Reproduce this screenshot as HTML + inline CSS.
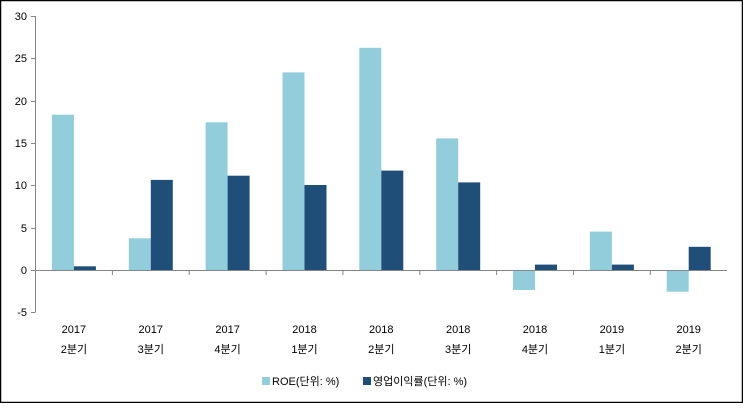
<!DOCTYPE html>
<html><head><meta charset="utf-8"><style>
body{margin:0;background:#fff}
svg text{font-family:"Liberation Sans","Noto Sans CJK KR",sans-serif;font-size:11px;fill:#000}
</style></head><body>
<svg width="743" height="403" xmlns="http://www.w3.org/2000/svg">
<rect x="0.5" y="0.5" width="742" height="402" fill="#fff" stroke="#000" stroke-width="1.5"/>
<g fill="#92CDDC">
<rect x="51.9" y="114.7" width="22" height="155.8"/>
<rect x="128.8" y="238.3" width="22" height="32.2"/>
<rect x="205.6" y="122.3" width="22" height="148.2"/>
<rect x="282.5" y="72.4" width="22" height="198.1"/>
<rect x="359.3" y="47.8" width="22" height="222.7"/>
<rect x="436.2" y="138.4" width="22" height="132.1"/>
<rect x="513.0" y="270.5" width="22" height="19.5"/>
<rect x="589.9" y="231.6" width="22" height="38.9"/>
<rect x="666.7" y="270.5" width="22" height="21.2"/>
</g>
<g fill="#1F4E79">
<rect x="73.9" y="266.3" width="22" height="4.2"/>
<rect x="150.8" y="179.9" width="22" height="90.6"/>
<rect x="227.6" y="175.7" width="22" height="94.8"/>
<rect x="304.5" y="185" width="22" height="85.5"/>
<rect x="381.3" y="170.6" width="22" height="99.9"/>
<rect x="458.2" y="182.4" width="22" height="88.1"/>
<rect x="535.0" y="264.6" width="22" height="5.9"/>
<rect x="611.9" y="264.6" width="22" height="5.9"/>
<rect x="688.7" y="246.8" width="22" height="23.7"/>
</g>
<line x1="35.5" y1="16" x2="35.5" y2="312" stroke="#868686"/>
<line x1="35.5" y1="270.5" x2="727" y2="270.5" stroke="#868686"/>
<g stroke="#868686">
<line x1="31" y1="16.5" x2="35.5" y2="16.5"/><line x1="31" y1="58.5" x2="35.5" y2="58.5"/>
<line x1="31" y1="101.5" x2="35.5" y2="101.5"/><line x1="31" y1="143.5" x2="35.5" y2="143.5"/>
<line x1="31" y1="185.5" x2="35.5" y2="185.5"/><line x1="31" y1="228.5" x2="35.5" y2="228.5"/>
<line x1="31" y1="270.5" x2="35.5" y2="270.5"/><line x1="31" y1="312.5" x2="35.5" y2="312.5"/>
<line x1="112.4" y1="270" x2="112.4" y2="275"/><line x1="189.2" y1="270" x2="189.2" y2="275"/>
<line x1="266.1" y1="270" x2="266.1" y2="275"/><line x1="342.9" y1="270" x2="342.9" y2="275"/>
<line x1="419.8" y1="270" x2="419.8" y2="275"/><line x1="496.6" y1="270" x2="496.6" y2="275"/>
<line x1="573.5" y1="270" x2="573.5" y2="275"/><line x1="650.3" y1="270" x2="650.3" y2="275"/>
</g>
<g text-anchor="end">
<text x="27" y="20">30</text><text x="27" y="62">25</text><text x="27" y="105">20</text>
<text x="27" y="147">15</text><text x="27" y="189">10</text><text x="27" y="232">5</text>
<text x="27" y="274">0</text><text x="27" y="316">-5</text>
</g>
<g text-anchor="middle">
<text x="73.9" y="333">2017</text><text x="73.9" y="353">2분기</text>
<text x="150.8" y="333">2017</text><text x="150.8" y="353">3분기</text>
<text x="227.6" y="333">2017</text><text x="227.6" y="353">4분기</text>
<text x="304.5" y="333">2018</text><text x="304.5" y="353">1분기</text>
<text x="381.3" y="333">2018</text><text x="381.3" y="353">2분기</text>
<text x="458.2" y="333">2018</text><text x="458.2" y="353">3분기</text>
<text x="535.0" y="333">2018</text><text x="535.0" y="353">4분기</text>
<text x="611.9" y="333">2019</text><text x="611.9" y="353">1분기</text>
<text x="688.7" y="333">2019</text><text x="688.7" y="353">2분기</text>
</g>
<rect x="262" y="377" width="8" height="8" fill="#92CDDC"/>
<text x="272" y="385">ROE(단위: %)</text>
<rect x="363" y="377" width="8" height="8" fill="#1F4E79"/>
<text x="373" y="385">영업이익률(단위: %)</text>
</svg>
</body></html>
